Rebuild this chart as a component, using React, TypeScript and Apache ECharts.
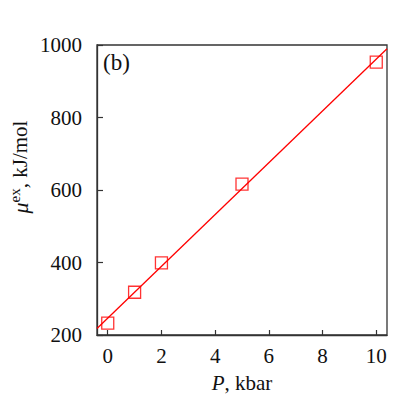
import React, { useEffect, useRef } from "react";
import * as echarts from "echarts";

const pressure = [0, 1, 2, 5, 10];
const muEx = [233, 318, 399, 616, 953];
const fitX = [-0.4, 10.4];
const fitY = [217.7, 989.5];
const xTicks = [0, 2, 4, 6, 8, 10];
const yTicks = [200, 400, 600, 800, 1000];

const FONT = "Liberation Serif";

export default function App() {
  const ref = useRef<HTMLDivElement>(null);
  useEffect(() => {
    if (!ref.current) return;
    const chart = echarts.init(ref.current, undefined, { renderer: "svg" });
    chart.setOption({
      animation: false,
      backgroundColor: "#fff",
      grid: {
        left: 97,
        right: 28,
        top: 45,
        bottom: 80,
        show: true,
        borderColor: "#333",
        borderWidth: 1.3,
        backgroundColor: "transparent",
      },
      xAxis: {
        type: "value",
        min: -0.4,
        max: 10.4,
        splitNumber: 5,
        axisLine: { show: true, onZero: false, lineStyle: { color: "#333", width: 1.3 } },
        axisTick: { show: true, inside: true, length: 5, lineStyle: { color: "#333", width: 1.2 } },
        splitLine: { show: false },
        axisLabel: {
          showMinLabel: false,
          showMaxLabel: false,
          margin: 10,
          color: "#111",
          fontFamily: FONT,
          fontSize: 21,
          formatter: (v: number) => (xTicks.includes(v) ? String(v) : ""),
        },
      },
      yAxis: {
        type: "value",
        min: yTicks[0],
        max: yTicks[yTicks.length - 1],
        interval: 200,
        axisLine: { show: true, onZero: false, lineStyle: { color: "#333", width: 1.3 } },
        axisTick: { show: true, inside: true, length: 6, lineStyle: { color: "#333", width: 1.2 } },
        splitLine: { show: false },
        axisLabel: {
          margin: 15,
          color: "#111",
          fontFamily: FONT,
          fontSize: 21,
          formatter: (v: number) => String(v),
        },
      },
      graphic: [
        {
          type: "text",
          left: 103,
          top: 51,
          style: { text: "(b)", font: `23px "${FONT}"`, fill: "#111" },
        },
        {
          type: "text",
          x: 242,
          y: 383,
          style: {
            text: "{it|P}{n|, kbar}",
            align: "center",
            verticalAlign: "middle",
            rich: {
              it: { fontFamily: FONT, fontSize: 21, fontStyle: "italic", fill: "#111" },
              n: { fontFamily: FONT, fontSize: 21, fill: "#111" },
            },
          },
        },
        {
          type: "text",
          x: 20,
          y: 167,
          rotation: Math.PI / 2,
          style: {
            text: "{it|μ}{sup|ex}{n|, kJ/mol}",
            align: "center",
            verticalAlign: "middle",
            rich: {
              it: { fontFamily: FONT, fontSize: 22, fontStyle: "italic", fill: "#111", lineHeight: 26 },
              sup: { fontFamily: FONT, fontSize: 15, fill: "#111", verticalAlign: "top", lineHeight: 26 },
              n: { fontFamily: FONT, fontSize: 21, fill: "#111", lineHeight: 26 },
            },
          },
        },
      ],
      series: [
        {
          type: "line",
          data: fitX.map((x, i) => [x, fitY[i]]),
          showSymbol: false,
          symbol: "none",
          lineStyle: { color: "#ff0000", width: 1.3 },
          z: 2,
        },
        {
          type: "scatter",
          data: pressure.map((x, i) => [x, muEx[i]]),
          symbol: "rect",
          symbolSize: 12,
          itemStyle: { color: "transparent", borderColor: "#ff0000", borderWidth: 1.3 },
          z: 3,
        },
      ],
    });
    return () => chart.dispose();
  }, []);
  return <div ref={ref} style={{ width: 415, height: 415, position: "absolute", left: 0, top: 0 }} />;
}
